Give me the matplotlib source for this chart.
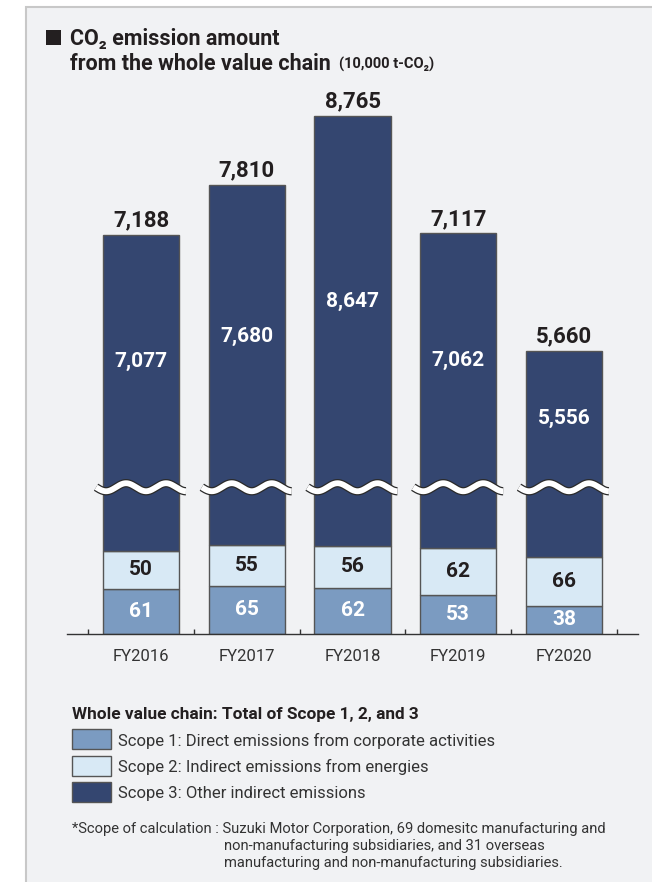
import matplotlib
matplotlib.use('Agg')
import matplotlib.pyplot as plt
import numpy as np
from matplotlib.patches import Rectangle

# ---------------- data ----------------
years = ['FY2016', 'FY2017', 'FY2018', 'FY2019', 'FY2020']
scope1 = [61, 65, 62, 53, 38]
scope2 = [50, 55, 56, 62, 66]
scope3 = [7077, 7680, 8647, 7062, 5556]
totals = [7188, 7810, 8765, 7117, 5660]
legend_labels = ['Scope 1: Direct emissions from corporate activities',
                 'Scope 2: Indirect emissions from energies',
                 'Scope 3: Other indirect emissions']

# ---------------- style ----------------
FONT = ['Roboto', 'DejaVu Sans']
plt.rcParams['font.family'] = FONT
C1, C2, C3 = '#7b9bc1', '#d8e9f5', '#344670'
TXT = '#231f20'
PANEL = '#f1f2f4'

# broken-axis compression for scope 3 (visual break)
BREAK_BASE = 2715
BREAK_SCALE = 0.0973
WAVE_Y = 197

W, H = 652, 882
def fx(px):
    return px / W
def fy(py):
    return 1 - py / H

fig = plt.figure(figsize=(W / 100, H / 100), dpi=100)
fig.patch.set_facecolor('white')
fig.patches.append(Rectangle((fx(26), -0.01), 1.0, fy(7) + 0.01, transform=fig.transFigure,
                             facecolor=PANEL, edgecolor='#c8c8c8', lw=1.5, zorder=-5))

ax = fig.add_axes([fx(67), fy(634), fx(638) - fx(67), (634 - 100) / H])
ax.set_zorder(2)
ax.set_facecolor('none')
ax.set_xlim(-0.70, 4.70)
ax.set_ylim(0, 534 / 0.745)

x = np.arange(len(years))
s1 = np.array(scope1, float)
s2 = np.array(scope2, float)
s3 = (np.array(scope3, float) - BREAK_BASE) * BREAK_SCALE
bw = 0.72
ax.bar(x, s1, bw, color=C1, edgecolor='#555555', lw=1, zorder=2)
ax.bar(x, s2, bw, bottom=s1, color=C2, edgecolor='#555555', lw=1, zorder=2)
ax.bar(x, s3, bw, bottom=s1 + s2, color=C3, edgecolor='#555555', lw=1, zorder=2)
top = s1 + s2 + s3

# wave break
wx = np.linspace(-0.425, 0.425, 200)
for xi in x:
    wy = WAVE_Y - 5.4 * np.sin(2 * np.pi * (wx + 0.425) / 0.378)
    ax.plot(xi + wx, wy, color='#2a2a2a', lw=6.0, solid_capstyle='butt', zorder=4)
    ax.plot(xi + wx, wy, color='white', lw=4.2, solid_capstyle='butt', zorder=5)

for i in range(len(years)):
    ax.text(x[i], s1[i] / 2, f'{scope1[i]}', ha='center', va='center', color='white',
            fontsize=15, fontweight='bold', zorder=6)
    ax.text(x[i], s1[i] + s2[i] / 2, f'{scope2[i]}', ha='center', va='center', color=TXT,
            fontsize=15, fontweight='bold', zorder=6)
    ax.text(x[i], (WAVE_Y + top[i]) / 2, f'{scope3[i]:,}', ha='center', va='center',
            color='white', fontsize=15, fontweight='bold', zorder=6)
    ax.annotate(f'{totals[i]:,}', (x[i], top[i]), xytext=(0, 6), textcoords='offset points',
                ha='center', va='baseline', color=TXT, fontsize=16, fontweight='bold')

for s in ['left', 'top', 'right']:
    ax.spines[s].set_visible(False)
ax.spines['bottom'].set_color('#333333')
ax.spines['bottom'].set_linewidth(1)
ax.set_yticks([])
ax.set_xticks(x)
ax.set_xticklabels(years, fontsize=12, color='#333333')
ax.tick_params(axis='x', which='major', length=0, pad=10.5)
ax.set_xticks(np.arange(-0.5, len(years), 1), minor=True)
ax.tick_params(axis='x', which='minor', direction='in', length=3.6, width=1, color='#333333')

# title
fig.patches.append(Rectangle((fx(46), fy(45)), 15 / W, 15 / H, transform=fig.transFigure,
                             facecolor=TXT, edgecolor='none'))
fig.text(fx(70), fy(45), 'CO₂ emission amount', fontsize=15.5, fontweight='bold', color=TXT,
         va='baseline', family=FONT)
fig.text(fx(70), fy(70), 'from the whole value chain', fontsize=15.5, fontweight='bold',
         color=TXT, va='baseline', family=FONT)
fig.text(fx(339), fy(69), '(10,000 t-CO₂)', fontsize=10.5, fontweight='bold', color=TXT,
         va='baseline', family=FONT)

# legend
fig.text(fx(72), fy(719), 'Whole value chain: Total of Scope 1, 2, and 3', fontsize=12.4,
         fontweight='bold', color=TXT, va='baseline')
for k, (lab, col) in enumerate(zip(legend_labels, [C1, C2, C3])):
    yc = 739 + 26.5 * k
    fig.patches.append(Rectangle((fx(72), fy(yc + 10)), 39 / W, 20 / H, transform=fig.transFigure,
                                 facecolor=col, edgecolor='#555555', lw=1))
    fig.text(fx(118), fy(yc), lab, fontsize=12, color='#333333', va='center_baseline')

# footnote
fig.text(fx(72), fy(833), '*Scope of calculation : Suzuki Motor Corporation, 69 domesitc manufacturing and',
         fontsize=10.6, color='#333333', va='baseline')
fig.text(fx(224), fy(850), 'non-manufacturing subsidiaries, and 31 overseas',
         fontsize=10.6, color='#333333', va='baseline')
fig.text(fx(224), fy(867), 'manufacturing and non-manufacturing subsidiaries.',
         fontsize=10.6, color='#333333', va='baseline')

fig.savefig('out.png', dpi=100, facecolor='white')
